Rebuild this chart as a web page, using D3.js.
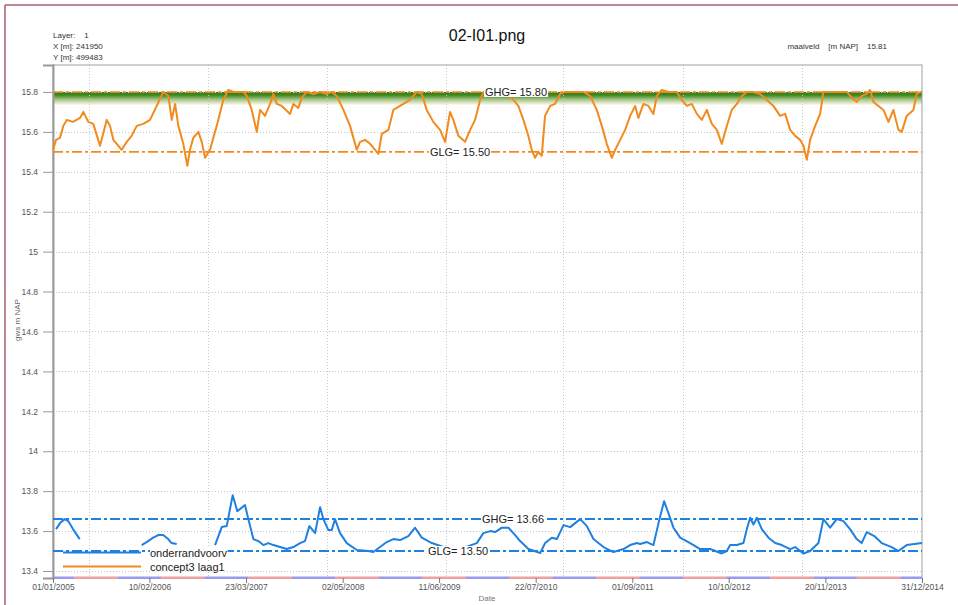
<!DOCTYPE html>
<html><head><meta charset="utf-8">
<script src="https://cdn.jsdelivr.net/npm/d3@7"></script>
<style>
html,body{margin:0;padding:0;background:#fff;}
svg{display:block;font-family:"Liberation Sans",Arial,sans-serif;}
text{white-space:pre;}
</style></head>
<body><svg id="chart" width="958" height="605"></svg>
<script>
// ---------- DATA ----------
const chartTitle = "02-I01.png";
const headerLeft = ["Layer:    1", "X [m]: 241950", "Y [m]: 499483"];
const headerRight = "maaiveld    [m NAP]    15.81";
const yTicks = [13.4,13.6,13.8,14,14.2,14.4,14.6,14.8,15,15.2,15.4,15.6,15.8];
const xTickLabels = ["01/01/2005","10/02/2006","23/03/2007","02/05/2008","11/06/2009","22/07/2010","01/09/2011","10/10/2012","20/11/2013","31/12/2014"];
const xGridDates = ["2005-06-01","2006-10-13","2008-02-25","2009-07-10","2010-11-14","2012-04-01","2013-08-15"];
const seriesNames = ["onderrandvoorv","concept3 laag1"];
// orange series: decimal years / m NAP
const orangeT = [2005.000,2005.035,2005.081,2005.119,2005.158,2005.230,2005.311,2005.349,2005.406,2005.464,2005.541,2005.618,2005.656,2005.694,2005.790,2005.848,2005.905,2005.963,2006.039,2006.116,2006.193,2006.269,2006.327,2006.366,2006.404,2006.442,2006.499,2006.545,2006.576,2006.614,2006.672,2006.711,2006.749,2006.806,2006.883,2006.959,2007.017,2007.074,2007.189,2007.229,2007.286,2007.344,2007.382,2007.439,2007.497,2007.535,2007.574,2007.631,2007.727,2007.765,2007.822,2007.861,2007.919,2007.995,2008.072,2008.149,2008.206,2008.264,2008.340,2008.417,2008.494,2008.532,2008.590,2008.647,2008.705,2008.743,2008.782,2008.858,2008.915,2009.030,2009.107,2009.184,2009.242,2009.299,2009.375,2009.452,2009.510,2009.567,2009.605,2009.663,2009.740,2009.798,2009.855,2009.913,2009.951,2010.028,2010.200,2010.296,2010.353,2010.411,2010.468,2010.507,2010.545,2010.583,2010.622,2010.660,2010.718,2010.775,2010.833,2010.890,2011.101,2011.178,2011.255,2011.313,2011.370,2011.428,2011.466,2011.524,2011.581,2011.639,2011.696,2011.734,2011.791,2011.849,2011.906,2011.945,2012.003,2012.079,2012.176,2012.233,2012.291,2012.348,2012.406,2012.463,2012.521,2012.578,2012.636,2012.693,2012.751,2012.808,2012.866,2012.923,2012.981,2013.057,2013.134,2013.211,2013.287,2013.364,2013.422,2013.479,2013.537,2013.594,2013.632,2013.671,2013.709,2013.767,2013.824,2013.862,2013.939,2014.131,2014.189,2014.246,2014.304,2014.361,2014.399,2014.437,2014.495,2014.552,2014.610,2014.667,2014.725,2014.763,2014.820,2014.897,2014.935,2014.981,2014.997];
const orangeV = [15.51,15.56,15.57,15.63,15.66,15.65,15.67,15.70,15.65,15.64,15.53,15.66,15.63,15.56,15.51,15.55,15.58,15.63,15.64,15.66,15.73,15.80,15.78,15.66,15.74,15.63,15.54,15.43,15.51,15.57,15.60,15.55,15.47,15.51,15.63,15.76,15.81,15.80,15.80,15.78,15.71,15.60,15.71,15.68,15.74,15.79,15.74,15.73,15.69,15.74,15.72,15.77,15.80,15.79,15.80,15.79,15.80,15.78,15.71,15.63,15.51,15.55,15.56,15.54,15.51,15.49,15.59,15.61,15.71,15.74,15.76,15.80,15.79,15.71,15.65,15.61,15.55,15.70,15.66,15.58,15.55,15.61,15.66,15.76,15.80,15.80,15.80,15.76,15.73,15.66,15.58,15.51,15.47,15.50,15.48,15.68,15.73,15.74,15.79,15.80,15.80,15.78,15.71,15.63,15.54,15.47,15.51,15.56,15.61,15.68,15.73,15.67,15.74,15.73,15.69,15.78,15.81,15.80,15.80,15.76,15.73,15.74,15.69,15.66,15.71,15.64,15.61,15.54,15.63,15.71,15.74,15.78,15.80,15.80,15.79,15.76,15.73,15.68,15.69,15.61,15.58,15.56,15.53,15.46,15.56,15.63,15.69,15.80,15.80,15.80,15.77,15.75,15.78,15.79,15.81,15.75,15.73,15.71,15.65,15.71,15.61,15.60,15.68,15.71,15.79,15.80,15.80];
// blue series (with gaps): one array per continuous segment
const blueT1 = [2005.035,2005.081,2005.135,2005.175,2005.230,2005.307];
const blueV1 = [13.61,13.64,13.66,13.65,13.61,13.56];
const blueT2 = [2006.020,2006.077,2006.153,2006.210,2006.268,2006.325,2006.364,2006.423];
const blueV2 = [13.53,13.545,13.567,13.58,13.58,13.56,13.54,13.535];
const blueT3 = [2006.864,2006.941,2006.998,2007.067,2007.120,2007.209,2007.247,2007.305,2007.362,2007.420,2007.477,2007.535,2007.612,2007.689,2007.765,2007.842,2007.899,2007.949,2008.015,2008.072,2008.110,2008.168,2008.206,2008.244,2008.302,2008.379,2008.494,2008.627,2008.685,2008.762,2008.839,2008.915,2008.992,2009.088,2009.165,2009.242,2009.358,2009.625,2009.874,2009.951,2010.028,2010.086,2010.163,2010.239,2010.316,2010.373,2010.469,2010.604,2010.661,2010.738,2010.796,2010.872,2010.949,2011.064,2011.141,2011.217,2011.332,2011.447,2011.562,2011.639,2011.716,2011.754,2011.831,2011.907,2011.965,2012.029,2012.079,2012.137,2012.214,2012.329,2012.444,2012.559,2012.693,2012.751,2012.789,2012.866,2012.942,2012.981,2013.019,2013.057,2013.096,2013.153,2013.230,2013.307,2013.383,2013.479,2013.537,2013.632,2013.709,2013.805,2013.862,2013.939,2014.015,2014.092,2014.168,2014.245,2014.302,2014.360,2014.447,2014.532,2014.648,2014.724,2014.820,2014.997];
const blueV3 = [13.53,13.62,13.625,13.78,13.70,13.73,13.66,13.56,13.55,13.53,13.54,13.53,13.52,13.51,13.52,13.54,13.55,13.625,13.59,13.72,13.66,13.605,13.605,13.66,13.59,13.54,13.505,13.50,13.495,13.52,13.545,13.56,13.555,13.575,13.617,13.567,13.54,13.50,13.54,13.59,13.60,13.595,13.617,13.617,13.58,13.55,13.51,13.49,13.54,13.567,13.56,13.63,13.62,13.66,13.625,13.56,13.52,13.495,13.51,13.53,13.54,13.535,13.545,13.53,13.64,13.75,13.69,13.617,13.567,13.54,13.51,13.51,13.488,13.50,13.53,13.53,13.54,13.61,13.667,13.633,13.667,13.61,13.567,13.54,13.53,13.51,13.52,13.488,13.50,13.54,13.66,13.617,13.66,13.65,13.61,13.56,13.54,13.595,13.575,13.54,13.52,13.50,13.53,13.54,13.612];
const orangeGHG = 15.80, orangeGLG = 15.50;
const blueGHG = 13.66, blueGLG = 13.50;

// ---------- SETUP ----------
const svg = d3.select("#chart");
const W = 958, H = 605;
const m = {left:53, right:922, top:65, bottom:578};
const t0 = new Date(2005,0,1), t1 = new Date(2014,11,31);
const parseDMY = d3.timeParse("%d/%m/%Y");
const parseISO = d3.timeParse("%Y-%m-%d");
const fromDec = dy => new Date(t0.getTime() + (dy-2005)*365.25*86400000);
const x = d3.scaleTime().domain([t0,t1]).range([m.left,m.right]);
const y = d3.scaleLinear().domain([13.365,15.935]).range([m.bottom,m.top]);

const orange = "#f28a1e", blue = "#1f80e0";

// outer frame
svg.append("line").attr("x1",5).attr("x2",W).attr("y1",5).attr("y2",5).attr("stroke","#a6606a").attr("stroke-width",1.5);
svg.append("line").attr("x1",5).attr("x2",5).attr("y1",5).attr("y2",H).attr("stroke","#a6606a").attr("stroke-width",1.5);

// header texts
svg.append("text").attr("x",487).attr("y",41).attr("text-anchor","middle").attr("font-size",16).attr("fill","#111").text(chartTitle);
headerLeft.forEach((t,i)=>svg.append("text").attr("x",53).attr("y",38+i*11).attr("font-size",8).attr("fill","#333").text(t));
svg.append("text").attr("x",887).attr("y",49).attr("text-anchor","end").attr("font-size",8).attr("fill","#333").text(headerRight);

// gradient band under GHG
const defs = svg.append("defs");
const grad = defs.append("linearGradient").attr("id","ghgGrad").attr("x1",0).attr("x2",0).attr("y1",0).attr("y2",1);
grad.append("stop").attr("offset","0%").attr("stop-color","#2f7a18");
grad.append("stop").attr("offset","25%").attr("stop-color","#3f8a22");
grad.append("stop").attr("offset","60%").attr("stop-color","#a9c88a");
grad.append("stop").attr("offset","100%").attr("stop-color","#fff8ee");
svg.append("rect").attr("x",m.left).attr("width",m.right-m.left)
  .attr("y",y(orangeGHG)).attr("height",y(15.735)-y(orangeGHG)).attr("fill","url(#ghgGrad)");

// grid
const grid = svg.append("g").attr("stroke","#c8c8c8").attr("stroke-width",1).attr("stroke-dasharray","1,2");
yTicks.forEach(v=>grid.append("line").attr("x1",m.left).attr("x2",m.right).attr("y1",Math.round(y(v))+0.5).attr("y2",Math.round(y(v))+0.5));
xGridDates.forEach(d=>grid.append("line").attr("y1",m.top).attr("y2",m.bottom).attr("x1",Math.round(x(parseISO(d)))+0.5).attr("x2",Math.round(x(parseISO(d)))+0.5));

// plot border
svg.append("rect").attr("x",m.left).attr("y",m.top).attr("width",m.right-m.left).attr("height",m.bottom-m.top)
  .attr("fill","none").attr("stroke","#a0a0a0").attr("stroke-width",1);

// season strip along the bottom
for(let yr=2004; yr<=2014; yr++){
  const segs = [[new Date(yr,9,1), new Date(yr+1,3,1), "#9a9af0"], [new Date(yr+1,3,1), new Date(yr+1,9,1), "#f0a0a0"]];
  segs.forEach(([a,b,c])=>{
    const xa = Math.max(x(a),m.left), xb = Math.min(x(b),m.right);
    if(xb>xa) svg.append("rect").attr("x",xa).attr("y",m.bottom-1.5).attr("width",xb-xa).attr("height",2.5).attr("fill",c);
  });
}

// axes
const yAxis = d3.axisLeft(y).tickValues(yTicks).tickSize(10).tickFormat(d=>d3.format("")(+d.toFixed(1)));
const gy = svg.append("g").attr("transform",`translate(${m.left},0)`).call(yAxis);
gy.select(".domain").attr("stroke","#999").attr("stroke-width",2);
gy.selectAll(".tick line").attr("stroke","#999");
gy.selectAll(".tick text").attr("font-size",8.5).attr("fill","#555").attr("font-family","Liberation Sans, Arial").attr("dx",-2);

const xTickDates = xTickLabels.map(parseDMY);
const xAxis = d3.axisBottom(x).tickValues(xTickDates).tickSize(5).tickFormat(d3.timeFormat("%d/%m/%Y"));
const gx = svg.append("g").attr("transform",`translate(0,${m.bottom})`).call(xAxis);
gx.select(".domain").remove();
gx.selectAll(".tick line").attr("stroke","#777");
gx.selectAll(".tick text").attr("font-size",8.5).attr("fill","#555").attr("font-family","Liberation Sans, Arial").attr("dy",4);

// axis titles
svg.append("text").attr("transform","translate(20,320) rotate(-90)").attr("text-anchor","middle").attr("font-size",8).attr("fill","#666").text("gws m NAP");
svg.append("text").attr("x",487).attr("y",601).attr("text-anchor","middle").attr("font-size",8).attr("fill","#777").text("Date");

// reference lines
function refLine(v,col,w){
  svg.append("line").attr("x1",m.left).attr("x2",m.right).attr("y1",y(v)).attr("y2",y(v))
    .attr("stroke",col).attr("stroke-width",w).attr("stroke-dasharray","10,3,3,3");
}
refLine(orangeGHG,orange,1.6);
refLine(orangeGLG,orange,1.6);
refLine(blueGHG,blue,2);
refLine(blueGLG,blue,2);

// series
const line = d3.line().x(d=>x(d[0])).y(d=>y(d[1]));
const pts = (T,V)=>T.map((t,i)=>[fromDec(t),V[i]]);
svg.append("path").datum(pts(orangeT,orangeV)).attr("d",line).attr("fill","none").attr("stroke",orange).attr("stroke-width",2).attr("stroke-linejoin","round");
[[blueT1,blueV1],[blueT2,blueV2],[blueT3,blueV3]].forEach(([T,V])=>
  svg.append("path").datum(pts(T,V)).attr("d",line).attr("fill","none").attr("stroke",blue).attr("stroke-width",2).attr("stroke-linejoin","round"));

// reference labels
function refLabel(v,cx,txt){
  const g = svg.append("g");
  const t = g.append("text").attr("x",cx).attr("y",y(v)+4).attr("text-anchor","middle").attr("font-size",11).attr("fill","#222").text(txt);
  const bb = t.node().getBBox();
  g.insert("rect","text").attr("x",bb.x-1).attr("y",bb.y+1).attr("width",bb.width+2).attr("height",bb.height-2).attr("fill","#fff");
}
refLabel(orangeGHG,516,"GHG= "+orangeGHG.toFixed(2));
refLabel(orangeGLG,460,"GLG= "+orangeGLG.toFixed(2));
refLabel(blueGHG,513,"GHG= "+blueGHG.toFixed(2));
refLabel(blueGLG,458,"GLG= "+blueGLG.toFixed(2));

// legend
const leg = [[blue,552.5],[orange,566.5]];
leg.forEach(([c,ly],i)=>{
  svg.append("line").attr("x1",63).attr("x2",141).attr("y1",ly).attr("y2",ly).attr("stroke",c).attr("stroke-width",2);
  const t = svg.append("text").attr("x",150).attr("y",ly+4).attr("font-size",11).attr("fill","#222").text(seriesNames[i]);
  const bb = t.node().getBBox();
  svg.insert("rect",()=>t.node()).attr("x",bb.x).attr("y",bb.y+1).attr("width",bb.width).attr("height",bb.height-2).attr("fill","#fff");
});
</script></body></html>
